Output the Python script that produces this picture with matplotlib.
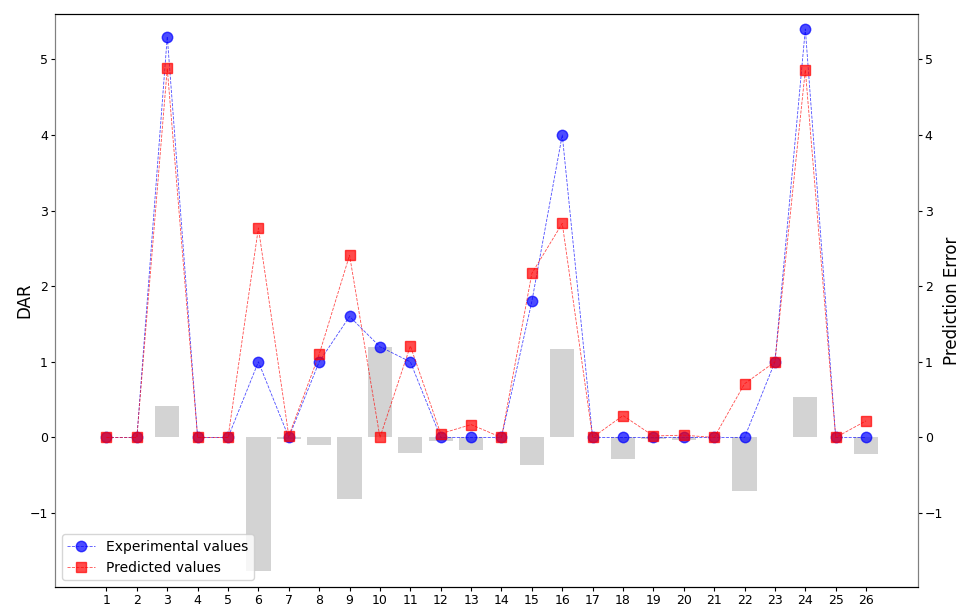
import matplotlib.pyplot as plt
import numpy as np

samples = list(range(1, 27))
experimental = [0, 0, 5.3, 0, 0, 1.0, 0, 1.0, 1.6, 1.2, 1.0, 0, 0, 0, 1.8, 4.0,
                0, 0, 0, 0, 0, 0, 1.0, 5.4, 0, 0]
predicted = [0, 0, 4.88, 0, 0, 2.77, 0.02, 1.1, 2.41, 0, 1.21, 0.05, 0.17, 0, 2.17, 2.83,
             0, 0.29, 0.02, 0.03, 0, 0.71, 1.0, 4.86, 0, 0.22]

error = np.array(experimental) - np.array(predicted)

fig, ax = plt.subplots(figsize=(9.62, 6.06), dpi=100)
ax2 = ax.twinx()

ax.bar(samples, error, width=0.8, color='lightgray', zorder=1)
ax.plot(samples, experimental, 'o--', color='blue', alpha=0.7, lw=0.6,
        markersize=7.5, label='Experimental values', zorder=3)
ax.plot(samples, predicted, 's--', color='red', alpha=0.7, lw=0.6,
        markersize=7.5, label='Predicted values', zorder=3)

ax.set_xlim(-0.7, 27.7)
ax.set_ylim(-1.98, 5.6)
ax2.set_ylim(-1.98, 5.6)
ax.set_xticks(samples)
ax.set_ylabel('DAR', fontsize=12, labelpad=-3)
ax2.set_ylabel('Prediction Error', fontsize=12, labelpad=0)

for a in (ax, ax2):
    a.spines['left'].set_color('gray')
    a.spines['right'].set_color('gray')
    a.tick_params(length=3, pad=2, labelsize=9)

ax.legend(loc='lower left', fontsize=10)

plt.subplots_adjust(left=0.057, right=0.954, top=0.977, bottom=0.031)
plt.savefig('out.png')
